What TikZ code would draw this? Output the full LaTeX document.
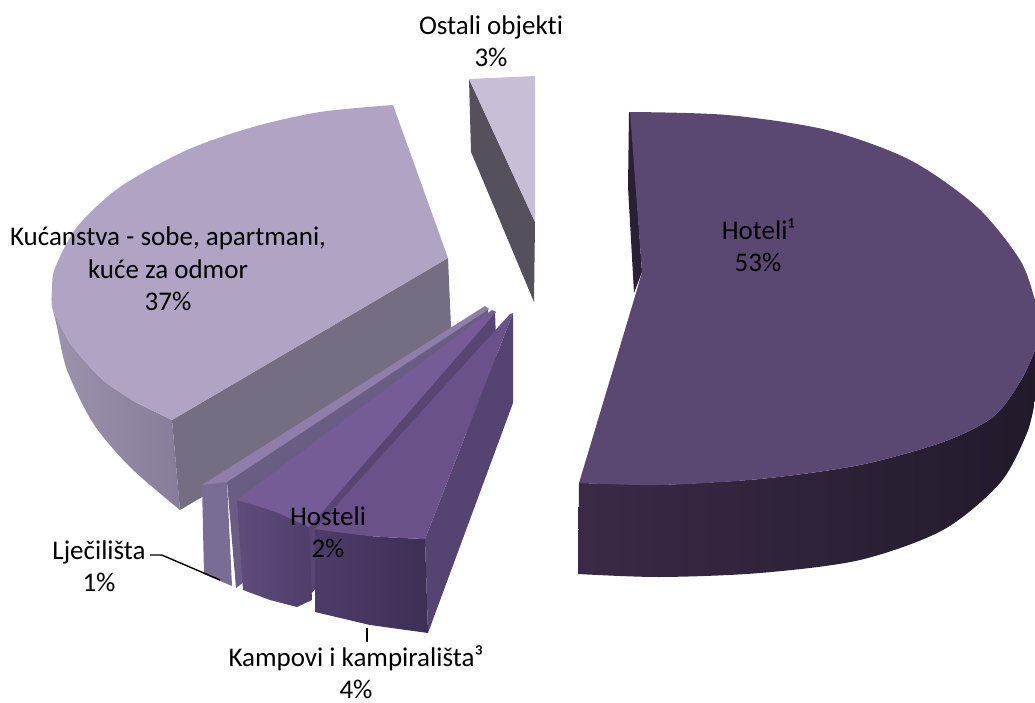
\documentclass[tikz,border=0pt]{standalone}
\usepackage{fontspec}
\setmainfont{Carlito}[Ligatures=CommonOff]
\definecolor{hotTop}{HTML}{5A4872}
\definecolor{hotSideL}{HTML}{3A2A46}
\definecolor{hotSideR}{HTML}{211A2A}
\definecolor{hotEdge}{HTML}{2A2036}
\definecolor{kucTop}{HTML}{B0A3C3}
\definecolor{kucSideL}{HTML}{9C93AC}
\definecolor{kucSideR}{HTML}{877C9B}
\definecolor{kucEdge}{HTML}{756D81}
\definecolor{ostTop}{HTML}{C8BFD6}
\definecolor{ostEdge}{HTML}{55505B}
\definecolor{ljeTop}{HTML}{8E7EA9}
\definecolor{ljeFront}{HTML}{7A6D95}
\definecolor{ljeEdge}{HTML}{6A5D84}
\definecolor{hosTop}{HTML}{765C97}
\definecolor{hosFrontL}{HTML}{5F4C7C}
\definecolor{hosFrontR}{HTML}{4E3E69}
\definecolor{hosEdge}{HTML}{584572}
\definecolor{kamTop}{HTML}{6A5189}
\definecolor{kamFrontL}{HTML}{4D3C69}
\definecolor{kamFrontR}{HTML}{3E2F56}
\definecolor{kamEdge}{HTML}{554371}
\begin{document}
\begin{tikzpicture}[x=1pt, y=-1pt, lbl/.style={align=center, inner sep=0pt, font=\fontsize{27}{32.5}\selectfont}, leader/.style={line width=1.4pt}]
\useasboundingbox (0,0) rectangle (1035,703);
\clip (0,0) rectangle (1035,703);
% Ostali objekti
\fill[ostEdge] (469,79) -- (471,152) -- (534,302) -- (535,222) -- cycle;
\fill[ostTop] (469,79) -- (535,76) -- (535,222) -- cycle;
% Kucanstva
\shade[left color=kucSideL, right color=kucSideR] (52,285) -- plot[smooth] coordinates {(53,310) (57,327) (67,370) (93,423) (130,467) (180,510)} -- (172,420) -- plot[smooth] coordinates {(137,403) (103,380) (70,343) (53,310)} -- cycle;
\fill[kucEdge] (172,420) -- (448,258) -- (452,350) -- (180,510) -- cycle;
\fill[kucTop] (393,105) -- (448,258) -- (172,420) -- plot[smooth] coordinates {(137,403) (103,380) (70,343) (53,310) (52,290) (55,268) (77,227) (120,187) (187,150) (253,127) (320,112) (393,105)} -- cycle;
% Hoteli
\fill[hotEdge] (629,112) -- (628,187) -- (634,293) -- (642,272) -- (631,113) -- cycle;
\shade[left color=hotSideL, right color=hotSideR] (579,483) -- plot[smooth] coordinates {(660,485) (760,479) (860,465) (943,442) (993,417) (1020,382) (1035,350) (1042,325)} -- (1045,370) -- plot[smooth] coordinates {(1035,400) (1027,433) (1000,483) (943,530) (860,560) (760,573) (660,577) (578,574)} -- cycle;
\fill[hotTop] plot[smooth] coordinates {(630,112) (727,115) (827,130) (910,160) (977,207) (1020,260) (1035,300) (1042,325) (1035,350) (1020,382) (993,417) (943,442) (860,465) (760,479) (660,485) (579,483)} -- (636,293) -- (642,272) -- cycle;
% Ljecilista
\fill[ljeEdge] (227,482) -- (488,308) -- (490,400) -- (236,588) -- cycle;
\fill[ljeFront] (202,485) -- (227,482) -- (232,586) -- (204,574) -- cycle;
\fill[ljeTop] (202,485) -- (485,306) -- (489,309) -- (227,482) -- cycle;
% Hosteli
\fill[hosEdge] (309,527) -- (495,311) -- (498,400) -- (300,605) -- cycle;
\shade[left color=hosFrontL, right color=hosFrontR] plot[smooth] coordinates {(237,500) (273,511) (309,527)} -- (312,600) -- (297,607) -- plot[smooth] coordinates {(270,600) (243,590)} -- cycle;
\fill[hosTop] (237,500) -- (492,310) -- (496,312) -- plot[smooth] coordinates {(309,527) (273,511) (237,500)} -- cycle;
% Kampovi
\fill[kamEdge] (425,539) -- (513,313) -- (513,403) -- (428,633) -- cycle;
\shade[left color=kamFrontL, right color=kamFrontR] plot[smooth] coordinates {(315,529) (370,536) (425,539)} -- (428,633) -- plot[smooth] coordinates {(370,625) (315,612)} -- cycle;
\fill[kamTop] (315,529) -- (510,314) -- (513,313) -- plot[smooth] coordinates {(425,539) (370,536) (315,529)} -- cycle;
% labels
\node[lbl] (ost) at (491,41) {Ostali objekti\\3\%};
\node[lbl] (kuc) at (168,269) {Kućanstva - sobe, apartmani,\\kuće za odmor\\37\%};
\node[lbl] (hot) at (758,245) {Hoteli¹\\53\%};
\node[lbl] (hos) at (328,532) {Hosteli\\2\%};
\node[lbl] (lje) at (99,566) {Lječilišta\\1\%};
\node[lbl] (kam) at (356,672) {Kampovi i kampirališta³\\4\%};
\coordinate (ljetip) at (220,580);
\coordinate (kamtip) at (367,628);
\draw[leader] ([xshift=4pt,yshift=11pt]lje.east) -- ++(12,0) -- (ljetip);
\draw[leader] (kamtip) -- ([yshift=3pt]kamtip |- kam.north);
\end{tikzpicture}
\end{document}
